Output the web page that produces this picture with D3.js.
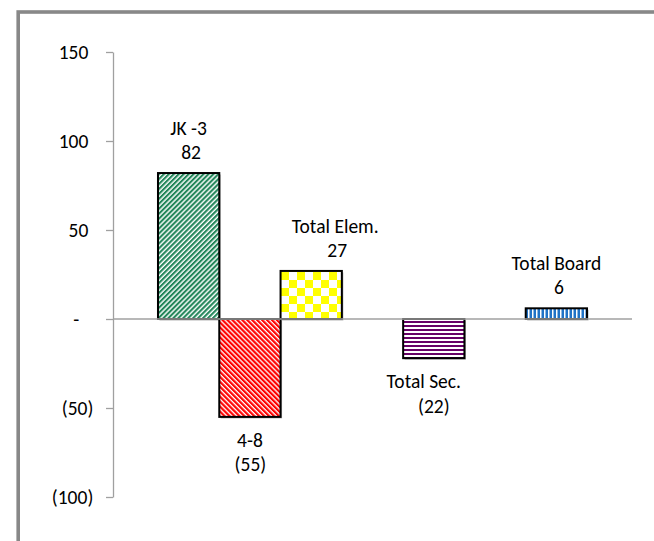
<!DOCTYPE html>
<html>
<head>
<meta charset="utf-8">
<script src="https://cdn.jsdelivr.net/npm/d3@7"></script>
<style>
  html, body { margin: 0; padding: 0; background: #fff; overflow: hidden; }
  svg { display: block; }
  text { font-family: Carlito, Calibri, Lato, "Liberation Sans", sans-serif; fill: #000; }
</style>
</head>
<body>
<svg id="chart" width="654" height="541"></svg>
<script>
// Enrollment change by grade band
const categories = ["JK -3", "4-8", "Total Elem.", "Total Sec.", "Total Board"];
const values = [82, -55, 27, -22, 6];
// x slots: blank entries leave empty columns between groups
const slots = ["JK -3", "4-8", "Total Elem.", "gap-a", "Total Sec.", "gap-b", "Total Board"];
const tickValues = [150, 100, 50, 0, -50, -100];

const svg = d3.select("#chart");
const fontSize = 19.5;

// accounting-style number format: negatives in parentheses, zero as dash
const fmt = v => v === 0 ? "-" : v < 0 ? "(" + d3.format(",")(-v) + ")" : d3.format(",")(v);

const y = d3.scaleLinear().domain([-100, 150]).range([497, 52]);
const x = d3.scaleBand().domain(slots).range([113, 632]).paddingInner(0).paddingOuter(0.734);

// ---- fill patterns ----
const defs = svg.append("defs");

// green forward diagonal
const pg = defs.append("pattern").attr("id", "p-green").attr("patternUnits", "userSpaceOnUse")
  .attr("width", 3.5).attr("height", 10).attr("patternTransform", "rotate(45)");
pg.append("rect").attr("width", 3.5).attr("height", 10).attr("fill", "#fff");
pg.append("rect").attr("width", 2.1).attr("height", 10).attr("fill", "#23865a");

// red backward diagonal
const pr = defs.append("pattern").attr("id", "p-red").attr("patternUnits", "userSpaceOnUse")
  .attr("width", 3.5).attr("height", 10).attr("patternTransform", "rotate(-45)");
pr.append("rect").attr("width", 3.5).attr("height", 10).attr("fill", "#fff");
pr.append("rect").attr("width", 2.2).attr("height", 10).attr("fill", "#ff0000");

// yellow checkerboard
const cs = 8;
const py = defs.append("pattern").attr("id", "p-yellow").attr("patternUnits", "userSpaceOnUse")
  .attr("width", cs * 2).attr("height", cs * 2).attr("x", 281).attr("y", 272);
py.append("rect").attr("width", cs * 2).attr("height", cs * 2).attr("fill", "#fff");
py.append("rect").attr("width", cs).attr("height", cs).attr("fill", "#ffff00");
py.append("rect").attr("x", cs).attr("y", cs).attr("width", cs).attr("height", cs).attr("fill", "#ffff00");

// purple horizontal stripes
const pp = defs.append("pattern").attr("id", "p-purple").attr("patternUnits", "userSpaceOnUse")
  .attr("width", 10).attr("height", 4).attr("y", 319);
pp.append("rect").attr("width", 10).attr("height", 4).attr("fill", "#fff");
pp.append("rect").attr("y", 2).attr("width", 10).attr("height", 2).attr("fill", "#660066");

// blue vertical stripes
const pb = defs.append("pattern").attr("id", "p-blue").attr("patternUnits", "userSpaceOnUse")
  .attr("width", 4).attr("height", 10).attr("x", 524);
pb.append("rect").attr("width", 4).attr("height", 10).attr("fill", "#fff");
pb.append("rect").attr("x", 1.5).attr("width", 2.5).attr("height", 10).attr("fill", "#1f72c6");

const fills = {
  "JK -3": "url(#p-green)",
  "4-8": "url(#p-red)",
  "Total Elem.": "url(#p-yellow)",
  "Total Sec.": "url(#p-purple)",
  "Total Board": "url(#p-blue)"
};

// ---- outer frame ----
svg.append("rect")
  .attr("x", 18.2).attr("y", 12).attr("width", 700).attr("height", 600)
  .attr("fill", "none").attr("stroke", "#888").attr("stroke-width", 3.6);

// ---- y axis ----
const yAxis = d3.axisLeft(y).tickValues(tickValues).tickSize(7).tickSizeOuter(0).tickPadding(12.7).tickFormat(fmt);
const ga = svg.append("g").attr("transform", "translate(113,0)").call(yAxis);
ga.select(".domain").attr("stroke", "#a0a0a0").attr("stroke-width", 1.3);
ga.selectAll(".tick line").attr("stroke", "#a0a0a0").attr("stroke-width", 1.3);
ga.selectAll(".tick text")
  .attr("font-size", fontSize)
  .attr("font-family", null)
  .attr("fill", "#000")
  .attr("dx", d => d === 0 ? -14 : d > 0 ? -5 : 0);

// ---- bars ----
const data = categories.map((c, i) => ({ cat: c, val: values[i] }));
const bars = svg.append("g");
bars.selectAll("rect.shadow").data(data).join("rect")
  .attr("class", "shadow")
  .attr("x", d => x(d.cat) + 1.5)
  .attr("y", d => Math.min(y(d.val), y(0)) + 1.5)
  .attr("width", x.bandwidth())
  .attr("height", d => Math.abs(y(d.val) - y(0)))
  .attr("fill", "#b5b5b5");
bars.selectAll("rect.bar").data(data).join("rect")
  .attr("class", "bar")
  .attr("x", d => x(d.cat))
  .attr("y", d => Math.min(y(d.val), y(0)))
  .attr("width", x.bandwidth())
  .attr("height", d => Math.abs(y(d.val) - y(0)))
  .attr("fill", d => fills[d.cat])
  .attr("stroke", "#000")
  .attr("stroke-width", 2);

// zero line across the plot, drawn over the bars
svg.append("line")
  .attr("x1", 113).attr("x2", 632)
  .attr("y1", y(0)).attr("y2", y(0))
  .attr("stroke", "#a0a0a0").attr("stroke-width", 1.3);

// ---- data labels: category name + value ----
const nudge = {
  "JK -3": [0, 2.5],
  "4-8": [0, 0.5],
  "Total Elem.": [24, 26],
  "Total Sec.": [-10, 0],
  "Total Board": [0, 2.5]
};
const labels = svg.append("g").attr("font-size", fontSize).attr("text-anchor", "middle");
data.forEach(d => {
  const cx = x(d.cat) + x.bandwidth() / 2;
  const end = y(d.val);
  const [nx, vx] = nudge[d.cat];
  const nameY = d.val >= 0 ? end - 38 : end + 30;
  const valY = d.val >= 0 ? end - 14 : end + 54.5;
  labels.append("text").attr("x", cx + nx).attr("y", nameY).text(d.cat);
  labels.append("text").attr("x", cx + vx).attr("y", valY).text(fmt(d.val));
});
</script>
</body>
</html>
